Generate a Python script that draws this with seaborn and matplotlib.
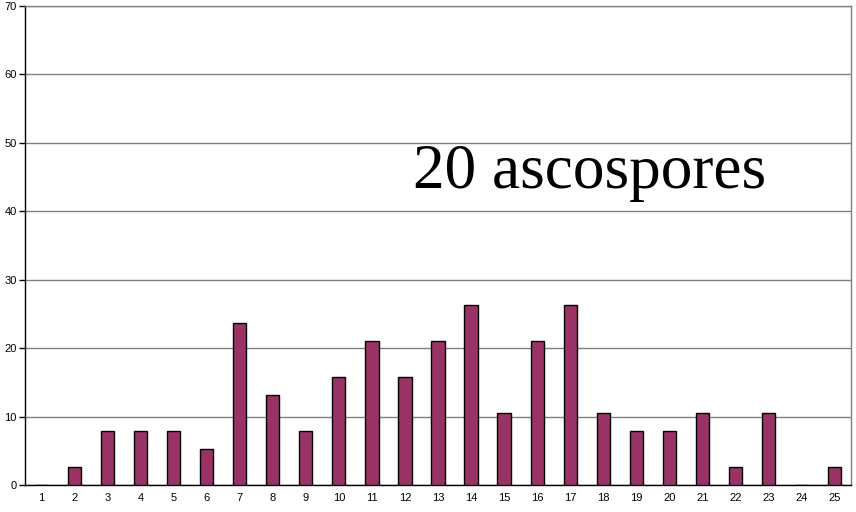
import matplotlib
matplotlib.use("Agg")
import matplotlib.pyplot as plt
import seaborn as sns
import pandas as pd
import numpy as np

categories = [str(i) for i in range(1, 26)]
values = [0, 2.63, 7.89, 7.89, 7.89, 5.26, 23.68, 13.16, 7.89, 15.79, 21.05, 15.79,
          21.05, 26.32, 10.53, 21.05, 26.32, 10.53, 7.89, 7.89, 10.53, 2.63, 10.53, 0, 2.63]
y_ticks = [0, 10, 20, 30, 40, 50, 60, 70]
annotation = "20 ascospores"

df = pd.DataFrame({"cat": categories, "val": values})

sns.set_style("white")
plt.rcParams['font.family'] = ['Liberation Sans', 'DejaVu Sans']
plt.rcParams['text.color'] = 'black'
plt.rcParams['xtick.color'] = 'black'
plt.rcParams['ytick.color'] = 'black'

fig = plt.figure(figsize=(8.56, 5.12), dpi=100)
ax = fig.add_axes([25/856, 27/512, 826/856, 479/512])

sns.barplot(data=df, x="cat", y="val", order=categories, color="#993366",
            saturation=1, width=0.4, edgecolor="black", linewidth=1, ax=ax, zorder=3)

ax.set_ylim(0, 70)
ax.set_xlim(-0.5, 24.5)
ax.set_yticks(y_ticks)
ax.yaxis.grid(True, color="#808080", linewidth=1, zorder=0)
ax.set_axisbelow(True)
ax.set_xlabel("")
ax.set_ylabel("")

ax.tick_params(axis="x", which="major", length=0, labelsize=8, pad=6, labelcolor="black")
ax.set_xticks(np.arange(-0.5, 25, 1), minor=True)
ax.tick_params(axis="x", which="minor", length=5, width=1, color="black", direction="out")
ax.tick_params(axis="y", length=4, width=1, color="black", labelsize=8, pad=2,
               direction="out", left=True, labelcolor="black")

for s in ["left", "bottom"]:
    ax.spines[s].set_color("black")
    ax.spines[s].set_linewidth(1)
for s in ["top", "right"]:
    ax.spines[s].set_color("#808080")
    ax.spines[s].set_linewidth(1)
    ax.spines[s].set_visible(True)

ax.text(590/856, 1 - 173/512, annotation, transform=fig.transFigure, ha="center", va="center",
        fontsize=45.5, family=["Liberation Serif", "DejaVu Serif"], color="black")

fig.savefig("out.png", dpi=100)
